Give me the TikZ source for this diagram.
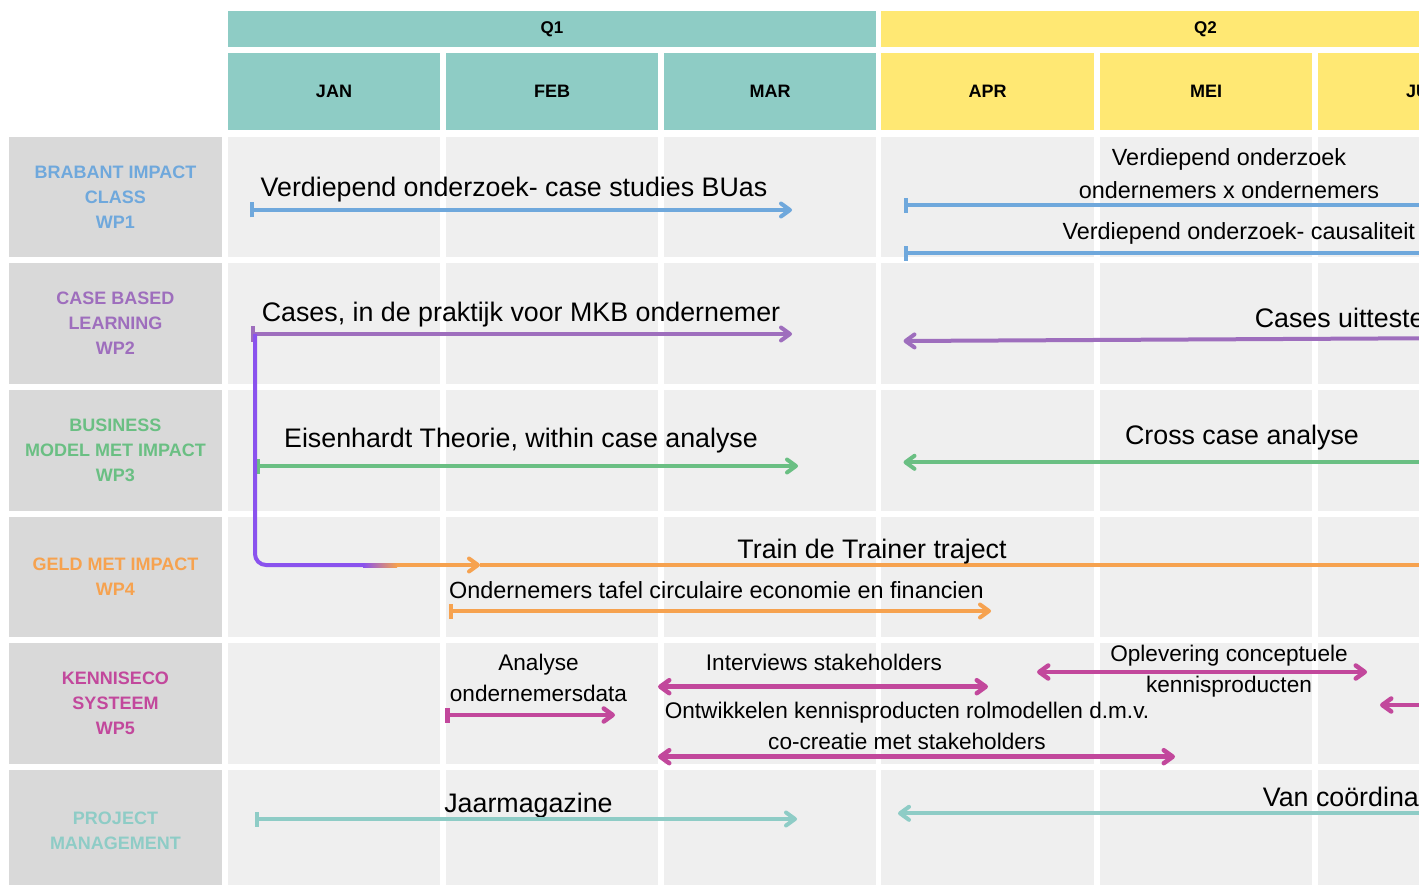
\documentclass[tikz,border=0pt]{standalone}
\usepackage{fontspec}
\setmainfont{Liberation Sans}
\usetikzlibrary{arrows.meta}
\definecolor{qone}{HTML}{8ECCC5}
\definecolor{qtwo}{HTML}{FFE873}
\definecolor{cellgray}{HTML}{EFEFEF}
\definecolor{labgray}{HTML}{D9D9D9}
\definecolor{wpblue}{HTML}{6FA8DC}
\definecolor{wppurple}{HTML}{9E6EBD}
\definecolor{bracket}{HTML}{8A52EE}
\definecolor{wpgreen}{HTML}{6ABF83}
\definecolor{wporange}{HTML}{F6A24F}
\definecolor{wpmagenta}{HTML}{C2489C}
\definecolor{wpteal}{HTML}{8ECCC6}
\tikzset{
	>={Straight Barb[length=9pt,width=13pt,round]},
	span/.style={line width=4pt, {Bar[width=15pt]}->},
	both/.style={line width=4.5pt, <->},
	back/.style={line width=4pt, <-},
	wpcell/.style={fill=labgray, minimum width=213pt, minimum height=120.5pt, inner sep=0pt,
			align=center, font=\bfseries\fontsize{18}{25}\selectfont},
	head/.style={font=\bfseries\fontsize{18}{20}\selectfont},
	big/.style={font=\fontsize{26.8}{30}\selectfont, anchor=base, inner sep=0pt},
	small/.style={font=\fontsize{22.6}{26}\selectfont, anchor=base, inner sep=0pt},
	mid/.style={font=\fontsize{23.4}{26}\selectfont, anchor=base, inner sep=0pt}
}
\begin{document}
\begin{tikzpicture}[x=1pt, y=-1pt]
	\useasboundingbox (0,0) rectangle (1419,885);
	\clip (0,0) rectangle (1419,885);
	\fill[white] (0,0) rectangle (1419,885);

	% grid
	\fill[qone] (228,11) rectangle (878.5,130);
	\fill[qtwo] (878.5,11) rectangle (1530,130);
	\fill[cellgray] (228,137) rectangle (1530,891);
	\draw[white, line width=6pt] (228,50) -- (1530,50) (228,133.5) -- (1530,133.5)
		(228,260) -- (1530,260) (228,387) -- (1530,387) (228,514) -- (1530,514)
		(228,640) -- (1530,640) (228,767) -- (1530,767);
	\draw[white, line width=6pt] (443,50) -- (443,891) (661,50) -- (661,891)
		(1097,50) -- (1097,891) (1315,50) -- (1315,891);
	\draw[white, line width=5pt] (878.5,11) -- (878.5,891);

	\node[head, font=\bfseries\fontsize{17}{20}\selectfont] (q1) at (552,29) {Q1};
	\node[head, font=\bfseries\fontsize{17}{20}\selectfont] (q2) at (1205.5,29) {Q2};
	\node[head] (jan) at (334,91.5) {JAN};
	\node[head] (feb) at (552,91.5) {FEB};
	\node[head] (mar) at (770,91.5) {MAR};
	\node[head] (apr) at (987.5,91.5) {APR};
	\node[head] (mei) at (1206,91.5) {MEI};
	\node[head] (jun) at (1424,91.5) {JUN};

	\node[wpcell, text=wpblue] (wp1) at (115.5,197) {BRABANT IMPACT\\CLASS\\WP1};
	\node[wpcell, text=wppurple] (wp2) at (115.5,323.5) {CASE BASED\\LEARNING\\WP2};
	\node[wpcell, text=wpgreen] (wp3) at (115.5,450.5) {BUSINESS\\MODEL MET IMPACT\\WP3};
	\node[wpcell, text=wporange] (wp4) at (115.5,577) {GELD MET IMPACT\\WP4};
	\node[wpcell, text=wpmagenta] (wp5) at (115.5,703.5) {KENNISECO\\SYSTEEM\\WP5};
	\node[wpcell, text=wpteal] (pm) at (115.5,830.5) {PROJECT\\MANAGEMENT};

	% WP1
	\node[big] (bucase) at (514,197) {Verdiepend onderzoek- case studies BUas};
	\coordinate (bucaseS) at (249.5,210);
	\coordinate (bucaseE) at (792,210);
	\draw[span, wpblue] (bucaseS) -- (bucaseE);
	\node[mid] (onderA) at (1229,166) {Verdiepend onderzoek};
	\node[mid] (onderB) at (1229,199) {ondernemers x ondernemers};
	\coordinate (onderS) at (903.5,205.5);
	\coordinate (onderE) at (1530,205.5);
	\draw[line width=4pt, wpblue, {Bar[width=15pt]}-] (onderS) -- (onderE);
	\node[mid] (causal) at (1238.8,240) {Verdiepend onderzoek- causaliteit};
	\coordinate (causalS) at (903.5,253.3);
	\coordinate (causalE) at (1530,253.3);
	\draw[line width=4pt, wpblue, {Bar[width=15pt]}-] (causalS) -- (causalE);

	% WP2
	\node[big] (cases) at (521,322) {Cases, in de praktijk voor MKB ondernemer};
	\coordinate (casesS) at (251,334);
	\coordinate (casesE) at (792,334);
	\draw[span, wppurple] (casesS) -- (casesE);
	\node[big, anchor=base west] (uittest) at (1254.6,327.5) {Cases uitteste};
	\coordinate (uittestS) at (903.5,341);
	\coordinate (uittestE) at (1530,337.7);
	\draw[back, wppurple] (uittestS) -- (uittestE);

	% WP3
	\node[big] (eisen) at (521,447) {Eisenhardt Theorie, within case analyse};
	\coordinate (eisenS) at (256.3,466);
	\coordinate (eisenE) at (798,466);
	\draw[span, wpgreen] (eisenS) -- (eisenE);
	\node[big] (cross) at (1242,444.3) {Cross case analyse};
	\coordinate (crossS) at (903.5,462.3);
	\coordinate (crossE) at (1530,462.3);
	\draw[back, wpgreen] (crossS) -- (crossE);

	% WP4
	\coordinate (bendT) at (255,334);
	\coordinate (bendA) at (363,565);
	\coordinate (bendB) at (397,565);
	\coordinate (trainS) at (480,565);
	\coordinate (trainE) at (1530,565);
	\draw[bracket, line width=4pt, rounded corners=11pt] (bendT) |- (bendA);
	\shade[left color=bracket, right color=wporange] (363,563) rectangle (397,567);
	\draw[wporange, line width=4pt, ->] (bendB) -- (trainS);
	\draw[wporange, line width=4pt] (trainS) -- (trainE);
	\node[big] (train) at (872,558.3) {Train de Trainer traject};
	\node[mid] (tafel) at (716.5,598) {Ondernemers tafel circulaire economie en financien};
	\coordinate (tafelS) at (448.7,611);
	\coordinate (tafelE) at (991,611);
	\draw[span, wporange] (tafelS) -- (tafelE);

	% WP5
	\node[small] (analyseA) at (538.5,670.7) {Analyse};
	\node[small] (analyseB) at (538.5,701.7) {ondernemersdata};
	\coordinate (analyseS) at (445,715);
	\coordinate (analyseE) at (615,715);
	\draw[span, line width=4.5pt, wpmagenta] (analyseS) -- (analyseE);
	\node[small] (interv) at (824,670.7) {Interviews stakeholders};
	\coordinate (intervS) at (658,686.7);
	\coordinate (intervE) at (988,686.7);
	\draw[both, wpmagenta] (intervS) -- (intervE);
	\node[small] (ontwA) at (907,718.3) {Ontwikkelen kennisproducten rolmodellen d.m.v.};
	\node[small] (ontwB) at (907,749) {co-creatie met stakeholders};
	\coordinate (ontwS) at (658,756.7);
	\coordinate (ontwE) at (1175,756.7);
	\draw[both, wpmagenta] (ontwS) -- (ontwE);
	\node[small] (oplevA) at (1229,661.7) {Oplevering conceptuele};
	\node[small] (oplevB) at (1229,692.7) {kennisproducten};
	\coordinate (oplevS) at (1037,672);
	\coordinate (oplevE) at (1367,672);
	\draw[both, wpmagenta] (oplevS) -- (oplevE);
	\coordinate (junS) at (1380,705);
	\coordinate (junE) at (1530,705);
	\draw[back, line width=4.5pt, wpmagenta] (junS) -- (junE);

	% project management
	\node[big] (jaar) at (528.5,812.7) {Jaarmagazine};
	\coordinate (jaarS) at (254.7,819);
	\coordinate (jaarE) at (797,819);
	\draw[span, wpteal] (jaarS) -- (jaarE);
	\node[big, anchor=base west] (coord) at (1262.7,806.7) {Van coördinat};
	\coordinate (coordS) at (898,813.3);
	\coordinate (coordE) at (1530,813.3);
	\draw[back, wpteal] (coordS) -- (coordE);
\end{tikzpicture}
\end{document}
